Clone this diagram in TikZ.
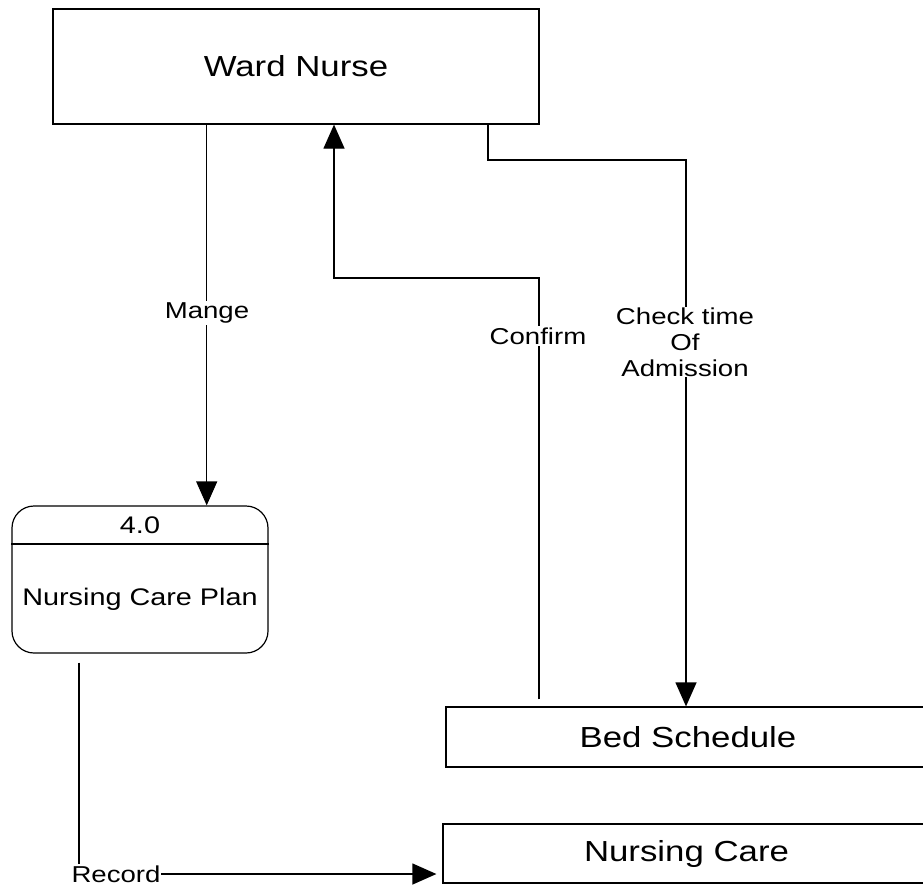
\documentclass[tikz,border=0pt]{standalone}
\usepackage{fontspec}
\usepackage{graphicx}
\setmainfont{Liberation Sans}
\usetikzlibrary{arrows.meta,calc}
\newcommand{\sx}[1]{\scalebox{1.2}[1]{#1}}
\tikzset{
  boxst/.style={draw, line width=1.2pt, inner sep=0pt, font=\fontsize{29}{33}\selectfont},
  flow/.style={line width=1.2pt},
  arr/.style={flow, -{Triangle[length=24pt,width=21pt]}},
  lbl/.style={fill=white, inner xsep=1pt, inner ysep=2pt, font=\fontsize{23}{26}\selectfont, align=center},
  ptxt/.style={inner sep=0pt, font=\fontsize{24}{28}\selectfont}
}
\begin{document}
\begin{tikzpicture}[x=1pt,y=-1pt]
\useasboundingbox (0,0) rectangle (923,888);
\clip (0,0) rectangle (923,888);
\fill[white] (0,0) rectangle (923,888);
% entities / stores
\node[boxst, minimum width=486pt, minimum height=115pt] (wn) at (296,66.5) {\sx{Ward Nurse}};
\node[boxst, minimum width=484pt, minimum height=60pt] (bs) at (688,737) {\sx{Bed Schedule}};
\node[boxst, minimum width=487pt, minimum height=59pt] (nc) at (686.5,853.5) {\sx{Nursing Care}};
% process
\node[draw, line width=1.2pt, rounded corners=22pt, minimum width=256pt, minimum height=147pt, inner sep=0pt] (ncp) at (140,579.5) {};
\draw[line width=1.2pt] (ncp.west |- 0,544) -- (ncp.east |- 0,544);
\node[ptxt] (pid) at (140,525) {\sx{4.0}};
\node[ptxt] (pname) at (140,599) {\sx{Nursing Care Plan}};
% helper coordinates
\coordinate (mx) at (206.7,0);
\coordinate (cx) at (539,0);
\coordinate (cx2) at (334,0);
\coordinate (cy) at (0,278);
\coordinate (kx) at (488,0);
\coordinate (kx2) at (686,0);
\coordinate (ky) at (0,160);
\coordinate (rx) at (79,0);
\coordinate (ry) at (0,874);
% connectors
\draw[arr] (mx |- wn.south) -- (mx |- ncp.north);
\draw[arr] ($(cx |- bs.north)+(0,-7)$) |- (cx2 |- cy) -- (cx2 |- wn.south);
\draw[arr] (kx |- wn.south) -- (kx |- ky) -| (kx2 |- bs.north);
\draw[arr] ($(rx |- ncp.south)+(0,9)$) |- ($(nc.west |- ry)+(-6,0)$);
% labels
\node[lbl] (lm) at (207,313) {\sx{Mange}};
\node[lbl] (lc) at (538,336) {\sx{Confirm}};
\node[lbl, inner ysep=1pt] (lk) at (685,342) {\sx{Check time}\\\sx{Of}\\\sx{Admission}};
\node[lbl] (lr) at (116,874) {\sx{Record}};
\end{tikzpicture}
\end{document}
